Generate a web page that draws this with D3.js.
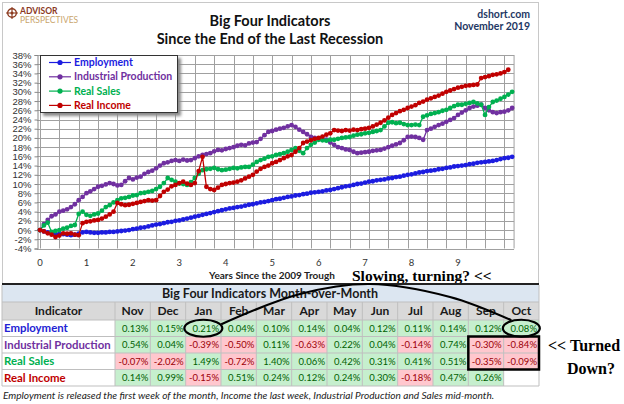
<!DOCTYPE html>
<meta charset="utf-8">
<html>
<head>
<script src="https://d3js.org/d3.v7.min.js" charset="utf-8"></script>
<style>
body { margin: 0; background: #fff; }
svg { font-family: Lato, "Open Sans", sans-serif; }
.grid line { stroke: #a0a0a0; stroke-width: 1; }
.axis text { font-size: 9.5px; fill: #333; }
.axis path, .axis line { stroke: #888; }
</style>
</head>
<body>
<svg width="624" height="404"></svg>
<script type="text/javascript">
// monthly cumulative % change since June 2009
var employment = [
  0.0,-0.3,-0.5,-0.6,-0.8,-0.9,-0.9,-1.0,-1.1,-1.0,
  -0.8,-0.5,-0.4,-0.5,-0.6,-0.6,-0.5,-0.5,-0.4,-0.4,
  -0.3,-0.2,-0.1,0.0,0.2,0.3,0.5,0.6,0.8,1.0,
  1.2,1.3,1.5,1.7,1.8,2.0,2.1,2.3,2.5,2.7,
  2.9,3.1,3.3,3.5,3.7,3.9,4.1,4.3,4.5,4.7,
  4.8,5.0,5.1,5.3,5.5,5.6,5.8,6.0,6.1,6.3,
  6.5,6.7,6.8,7.0,7.2,7.3,7.5,7.6,7.8,7.9,
  8.1,8.2,8.3,8.4,8.6,8.7,8.9,9.1,9.3,9.5,
  9.6,9.8,10.0,10.1,10.3,10.5,10.6,10.8,10.9,11.0,
  11.2,11.3,11.5,11.6,11.8,12.0,12.1,12.3,12.5,12.6,
  12.8,12.9,13.0,13.2,13.3,13.5,13.6,13.8,13.9,14.0,
  14.1,14.3,14.4,14.6,14.7,14.8,14.9,15.0,15.2,15.4,
  15.6,15.7,15.9];
var industrial = [
  0.0,1.3,2.2,3.0,3.4,4.0,4.2,4.5,5.0,5.6,
  6.5,7.2,8.0,8.4,8.9,9.4,9.6,9.9,10.2,10.0,
  9.7,9.8,10.6,11.3,11.0,11.4,11.6,12.2,12.6,12.9,
  13.4,14.0,14.5,14.7,15.0,15.2,15.0,15.3,15.1,15.2,
  15.6,16.0,16.3,16.5,16.7,17.1,17.4,17.3,17.6,17.8,
  18.0,18.3,18.5,18.4,18.8,19.0,19.1,19.8,20.6,21.3,
  21.5,21.8,22.0,22.2,22.5,22.8,22.4,21.8,21.3,20.8,
  20.2,20.0,19.8,19.7,19.6,19.0,18.5,18.0,17.8,17.5,
  17.4,17.0,16.7,16.8,16.9,17.0,17.2,17.3,17.4,17.7,
  18.0,18.3,18.6,18.9,19.5,20.2,20.3,20.2,20.0,19.6,
  21.7,22.0,22.4,22.8,23.1,23.5,23.9,24.3,25.0,25.5,
  26.0,26.5,26.8,27.0,27.2,26.5,26.0,25.6,25.4,25.6,
  25.7,26.0,26.5];
var realSales = [
  0.0,1.0,1.6,-0.4,-0.2,0.0,0.3,0.5,0.9,1.1,
  3.5,4.0,3.3,3.1,3.4,3.6,4.2,5.0,5.4,6.0,
  6.5,6.9,7.0,7.2,7.5,7.6,8.0,8.1,8.3,8.5,
  8.9,9.4,10.2,11.3,10.9,10.5,10.1,10.0,9.8,10.4,
  11.3,12.2,13.0,13.2,13.3,13.5,13.2,13.0,13.1,13.3,
  13.5,13.4,13.6,13.7,13.7,14.2,14.8,15.2,15.5,15.9,
  16.0,16.3,16.5,16.7,17.0,17.4,17.8,17.2,16.7,17.8,
  18.5,19.0,19.6,19.5,19.4,19.6,19.6,19.8,20.0,20.1,
  20.2,20.5,20.7,20.8,21.0,21.1,21.3,21.5,21.7,22.5,
  23.3,23.4,23.2,23.3,23.0,22.8,22.8,22.9,22.8,24.6,
  24.9,25.2,25.4,25.6,25.9,26.1,26.5,26.9,27.2,27.2,
  27.4,27.6,27.8,27.5,27.2,25.0,26.7,27.8,28.1,28.5,
  28.9,29.4,30.0];
var realIncome = [
  0.0,-0.3,-0.7,-1.0,-1.5,-1.2,-0.7,-0.8,-0.7,-1.0,
  -1.1,1.5,1.8,1.9,2.1,2.2,2.5,2.9,3.4,4.0,
  5.9,5.6,5.4,5.5,5.7,5.9,6.1,6.3,6.5,6.4,
  6.5,7.4,8.3,8.8,9.5,9.8,10.2,10.5,10.1,9.8,
  10.2,12.8,15.9,9.4,8.9,8.7,9.2,9.8,10.0,10.2,
  10.3,10.5,10.8,11.2,11.6,12.0,12.7,13.3,13.7,14.0,
  14.5,14.8,15.2,15.6,16.0,16.3,17.0,17.8,18.9,19.2,
  19.5,19.8,20.0,20.3,20.7,21.0,21.7,21.6,21.5,21.7,
  21.6,21.8,21.7,21.9,22.0,22.2,22.5,22.9,23.3,23.8,
  24.4,25.0,25.4,25.8,26.1,26.5,26.8,27.1,27.6,27.9,
  28.3,28.6,28.9,29.2,29.6,30.0,30.3,30.6,30.9,31.1,
  31.3,31.4,31.5,31.6,33.0,33.2,33.4,33.7,33.8,34.0,
  34.3,34.8];

var seriesNames = ["Employment", "Industrial Production", "Real Sales", "Real Income"];
var seriesColors = ["#1c1ce0", "#7030a0", "#00b050", "#c00000"];
var yearTicks = [0, 1, 2, 3, 4, 5, 6, 7, 8, 9];

// month-over-month table
var tableMonths = ["Nov","Dec","Jan","Feb","Mar","Apr","May","Jun","Jul","Aug","Sep","Oct"];
var momEmployment = [0.13,0.15,0.21,0.04,0.10,0.14,0.04,0.12,0.11,0.14,0.12,0.08];
var momIndustrial = [0.54,0.04,-0.39,-0.50,0.11,-0.63,0.22,0.04,-0.14,0.74,-0.30,-0.84];
var momSales = [-0.07,-2.02,1.49,-0.72,1.40,0.06,0.42,0.31,0.41,0.51,-0.35,-0.09];
var momIncome = [0.14,0.99,-0.15,0.51,0.24,0.12,0.24,0.30,-0.18,0.47,0.26,null];

var svg = d3.select("svg");
var allSeries = [employment, industrial, realSales, realIncome];

// outer frame of the chart
svg.append("rect").attr("x", 2.5).attr("y", 2.5).attr("width", 536).attr("height", 281)
    .attr("fill", "#fff").attr("stroke", "#c8c8c8");

// logo
var logo = svg.append("g").attr("transform", "translate(12,13)");
logo.append("circle").attr("r", 4.3).attr("fill", "none").attr("stroke", "#8b3a1f").attr("stroke-width", 1.4);
logo.append("path").attr("d", "M0,-6V6M-6,0H6").attr("stroke", "#8b3a1f").attr("stroke-width", 1.1);
logo.append("circle").attr("r", 1.5).attr("fill", "#8b3a1f");
svg.append("text").attr("x", 20).attr("y", 14).attr("font-size", 8.5).attr("font-weight", "bold")
    .attr("fill", "#8b3a1f").text("ADVISOR");
svg.append("text").attr("x", 20).attr("y", 23).attr("font-size", 8.5)
    .attr("fill", "#c9a56c").text("PERSPECTIVES");

// titles
svg.append("text").attr("x", 270).attr("y", 26).attr("text-anchor", "middle")
    .attr("font-size", 14.5).attr("font-weight", "bold").attr("fill", "#111").text("Big Four Indicators");
svg.append("text").attr("x", 270).attr("y", 43.5).attr("text-anchor", "middle")
    .attr("font-size", 14.5).attr("font-weight", "bold").attr("fill", "#111").text("Since the End of the Last Recession");
svg.append("text").attr("x", 530).attr("y", 18).attr("text-anchor", "end")
    .attr("font-size", 10.5).attr("font-weight", "bold").attr("fill", "#1f3864").text("dshort.com");
svg.append("text").attr("x", 530).attr("y", 29.5).attr("text-anchor", "end")
    .attr("font-size", 10.5).attr("font-weight", "bold").attr("fill", "#1f3864").text("November 2019");

// scales (x in months since June 2009)
var x = d3.scaleLinear().domain([0, 120]).range([40, 504.4]);
var y = d3.scaleLinear().domain([-4, 38]).range([248.5, 55]);
var left = x(-0.8), right = x(122.5);

var grid = svg.append("g").attr("class", "grid");
grid.selectAll(".h").data(d3.range(-4, 39, 2)).enter().append("line")
    .attr("x1", left).attr("x2", right)
    .attr("y1", function(d) { return Math.round(y(d)) + 0.5; })
    .attr("y2", function(d) { return Math.round(y(d)) + 0.5; });
grid.selectAll(".v").data(d3.range(0, 121, 5)).enter().append("line")
    .attr("y1", y(38)).attr("y2", y(-4))
    .attr("x1", function(d) { return Math.round(x(d)) + 0.5; })
    .attr("x2", function(d) { return Math.round(x(d)) + 0.5; });
svg.append("line").attr("x1", right).attr("x2", right).attr("y1", y(38)).attr("y2", y(-4))
    .attr("stroke", "#a0a0a0");

svg.append("g").attr("class", "axis")
    .attr("transform", "translate(" + Math.round(left) + ".5,0)")
    .call(d3.axisLeft(y).tickValues(d3.range(-4, 39, 2)).tickSize(3).tickPadding(3)
          .tickFormat(function(d) { return d + "%"; }))
    .call(function(g) { g.select(".domain").attr("stroke", "#888"); });

svg.append("g").attr("class", "axis")
    .selectAll("text").data(yearTicks).enter().append("text")
    .attr("x", function(d) { return x(d * 12); }).attr("y", 266)
    .attr("text-anchor", "middle").attr("font-size", 10).text(function(d) { return d; });

svg.append("text").attr("x", 272).attr("y", 279).attr("text-anchor", "middle")
    .attr("font-size", 10).attr("font-weight", "bold").attr("fill", "#222")
    .text("Years Since the 2009 Trough");
svg.append("text").attr("x", 352).attr("y", 281)
    .attr("font-family", "'Liberation Serif', serif").attr("font-size", 15.5).attr("font-weight", "bold")
    .attr("fill", "#000").text("Slowing, turning? <<");

// series lines with markers
var line = d3.line().x(function(d, i) { return x(i); }).y(function(d) { return y(d); });
[0, 1, 2, 3].forEach(function(k) {
  var g = svg.append("g");
  g.append("path").datum(allSeries[k]).attr("d", line)
      .attr("fill", "none").attr("stroke", seriesColors[k]).attr("stroke-width", 1.3);
  g.selectAll("circle").data(allSeries[k]).enter().append("circle")
      .attr("cx", function(d, i) { return x(i); })
      .attr("cy", function(d) { return y(d); })
      .attr("r", 2.4).attr("fill", seriesColors[k]);
});

// legend
var defs = svg.append("defs");
defs.append("filter").attr("id", "shadow").attr("x", "-10%").attr("y", "-10%").attr("width", "130%").attr("height", "140%")
    .append("feGaussianBlur").attr("stdDeviation", 1.5);
svg.append("rect").attr("x", 43).attr("y", 58).attr("width", 138).attr("height", 58)
    .attr("fill", "#888").attr("filter", "url(#shadow)");
svg.append("rect").attr("x", 40.5).attr("y", 55.5).attr("width", 137).attr("height", 57)
    .attr("fill", "#fff").attr("stroke", "#333");
var leg = svg.selectAll(".leg").data(seriesNames).enter().append("g")
    .attr("transform", function(d, i) { return "translate(49," + (62.5 + i * 14.3) + ")"; });
leg.append("line").attr("x1", 0).attr("x2", 22).attr("stroke", function(d, i) { return seriesColors[i]; })
    .attr("stroke-width", 1.2);
leg.append("circle").attr("cx", 11).attr("r", 2.6).attr("fill", function(d, i) { return seriesColors[i]; });
leg.append("text").attr("x", 25).attr("dy", "0.35em").attr("font-size", 10.5).attr("font-weight", "bold")
    .attr("fill", function(d, i) { return seriesColors[i]; }).text(function(d) { return d; });

// table
var tLeft = 2, tRight = 539, nameW = 113;
var col = d3.scaleBand().domain(tableMonths).range([tLeft + nameW, tRight]);
var rowTop = [285, 302, 320, 336.5, 353, 369.5, 386];
var momRows = [momEmployment, momIndustrial, momSales, momIncome];
var nameColors = ["#2323d4", "#7030a0", "#00b050", "#c00000"];

var tbl = svg.append("g");
tbl.append("rect").attr("x", tLeft).attr("y", rowTop[0]).attr("width", tRight - tLeft).attr("height", rowTop[1] - rowTop[0])
    .attr("fill", "#dce6f1");
tbl.append("rect").attr("x", tLeft).attr("y", rowTop[1]).attr("width", tRight - tLeft).attr("height", rowTop[2] - rowTop[1])
    .attr("fill", "#d9d9d9");
tbl.append("text").attr("x", 270).attr("y", rowTop[0] + 13).attr("text-anchor", "middle")
    .attr("font-size", 12.5).attr("font-weight", "bold").attr("fill", "#1a1a1a")
    .text("Big Four Indicators Month-over-Month");

// header
tbl.append("text").attr("x", tLeft + nameW / 2).attr("y", rowTop[1] + 13).attr("text-anchor", "middle")
    .attr("font-size", 12).attr("font-weight", "bold").attr("fill", "#1a1a1a").text("Indicator");
tbl.selectAll(".hd").data(tableMonths).enter().append("text")
    .attr("x", function(d) { return col(d) + col.bandwidth() / 2; }).attr("y", rowTop[1] + 13)
    .attr("text-anchor", "middle").attr("font-size", 12).attr("font-weight", "bold").attr("fill", "#1a1a1a")
    .text(function(d) { return d; });

momRows.forEach(function(vals, r) {
  var top = rowTop[r + 2], h = rowTop[r + 3] - top;
  tbl.append("text").attr("x", tLeft + 2).attr("y", top + h / 2).attr("dy", "0.36em")
      .attr("font-size", 11.4).attr("font-weight", "bold").attr("fill", nameColors[r]).text(seriesNames[r]);
  vals.forEach(function(v, c) {
    var cx = col(tableMonths[c]);
    if (v === null) return;
    tbl.append("rect").attr("x", cx).attr("y", top).attr("width", col.bandwidth()).attr("height", h)
        .attr("fill", v < 0 ? "#ffc7ce" : "#c6efce");
    tbl.append("text").attr("x", cx + col.bandwidth() - 2).attr("y", top + h / 2).attr("dy", "0.36em")
        .attr("text-anchor", "end").attr("font-size", 9.5).attr("fill", v < 0 ? "#9c0006" : "#006100")
        .text(v.toFixed(2) + "%");
  });
});

// cell borders
var borders = tbl.append("g").attr("stroke", "#bfbfbf").attr("stroke-width", 1);
rowTop.slice(1).forEach(function(yy) {
  borders.append("line").attr("x1", tLeft).attr("x2", tRight).attr("y1", yy).attr("y2", yy);
});
[tLeft, tLeft + nameW].concat(tableMonths.map(function(m) { return col(m) + col.bandwidth(); })).forEach(function(xx) {
  borders.append("line").attr("x1", xx).attr("x2", xx).attr("y1", rowTop[1]).attr("y2", rowTop[6]);
});
borders.append("line").attr("x1", tLeft).attr("x2", tLeft).attr("y1", rowTop[0]).attr("y2", rowTop[1]);
borders.append("line").attr("x1", tRight).attr("x2", tRight).attr("y1", rowTop[0]).attr("y2", rowTop[1]);
tbl.append("line").attr("x1", tLeft).attr("x2", tRight).attr("y1", rowTop[0] - 1).attr("y2", rowTop[0] - 1)
    .attr("stroke", "#222").attr("stroke-width", 2);

svg.append("text").attr("x", 3).attr("y", 399).attr("font-size", 10.1).attr("font-style", "italic").attr("fill", "#222")
    .text("Employment is released the first week of the month, Income the last week, Industrial Production and Sales mid-month.");

// annotations
var empMid = (rowTop[2] + rowTop[3]) / 2;
var janX = col("Jan") + col.bandwidth() / 2, octX = col("Oct") + col.bandwidth() / 2;
var ann = svg.append("g").attr("fill", "none").attr("stroke", "#000");
ann.append("ellipse").attr("cx", janX).attr("cy", empMid).attr("rx", 19).attr("ry", 8.5).attr("stroke-width", 2.2);
ann.append("ellipse").attr("cx", octX).attr("cy", empMid).attr("rx", 18.5).attr("ry", 8.5).attr("stroke-width", 2.2);
var curvePts = [[janX + 18, empMid - 4], [300, 294], [370, 284], [450, 297], [octX - 10, empMid - 8]];
ann.append("path").attr("d", d3.line().curve(d3.curveCatmullRom)(curvePts)).attr("stroke-width", 2.2);
ann.append("rect").attr("x", col("Sep")).attr("y", rowTop[3]).attr("width", tRight - col("Sep"))
    .attr("height", rowTop[5] - rowTop[3]).attr("stroke-width", 2.5);

svg.append("text").attr("x", 548).attr("y", 351)
    .attr("font-family", "'Liberation Serif', serif").attr("font-size", 16).attr("font-weight", "bold")
    .text("<< Turned");
svg.append("text").attr("x", 591).attr("y", 374).attr("text-anchor", "middle")
    .attr("font-family", "'Liberation Serif', serif").attr("font-size", 16).attr("font-weight", "bold")
    .text("Down?");
</script>
</body>
</html>
